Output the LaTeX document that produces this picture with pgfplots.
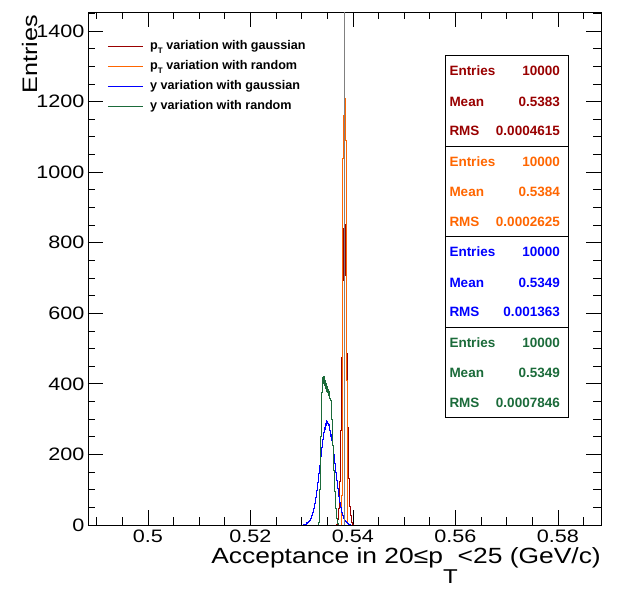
\documentclass[border=0pt]{standalone}
\usepackage{fontspec}
\setmainfont{Liberation Sans}
\newfontfamily\axisfont[FakeStretch=1.2]{Liberation Sans}
\usepackage{pgfplots}
\pgfplotsset{compat=1.18}

\definecolor{hred}{HTML}{990000}
\definecolor{horange}{HTML}{FF6600}
\definecolor{hblue}{HTML}{0000FF}
\definecolor{hgreen}{HTML}{1B6B3A}

% subscript T as drawn in the axis title and legend
\newcommand{\subT}[2]{\raisebox{#1}{\fontsize{#2}{#2}\selectfont T}}

\begin{document}
\begin{tikzpicture}[x=1pt,y=1pt]
\path[use as bounding box] (-88,-67) rectangle (537,525);
\begin{axis}[
  at={(0,0)}, anchor=south west,
  scale only axis, width=513pt, height=513pt,
  xmin=0.4883, xmax=0.5884, ymin=0, ymax=1454,
  xtick={0.5,0.52,0.54,0.56,0.58},
  xticklabels={0.5,0.52,0.54,0.56,0.58},
  minor xtick={0.49,0.495,0.505,0.51,0.515,0.525,0.53,0.535,0.545,0.55,0.555,0.565,0.57,0.575,0.585},
  ytick={0,200,...,1400},
  minor ytick={50,100,...,1450},
  major tick length=15pt, minor tick length=7.5pt,
  tick style={black, line width=0.8pt},
  axis line style={line width=0.8pt},
  /pgf/number format/assume math mode=true,
  /pgf/number format/1000 sep={},
  ticklabel style={font=\axisfont\fontsize{18}{18}\selectfont},
  xticklabel style={yshift=-1.5pt},
  xlabel={Acceptance in 20≤p\subT{-20pt}{20}<25 (GeV/c)},
  xlabel style={at={(axis description cs:1,-0.0741)}, anchor=base east, font=\axisfont\fontsize{22}{22}\selectfont, inner sep=0pt},
  ylabel={Entries},
  ylabel style={at={(axis description cs:-0.0994,0.9942)}, anchor=base east, font=\axisfont\fontsize{21}{21}\selectfont, inner sep=0pt},
  every axis plot/.append style={line width=0.8pt, const plot},
]
% pT variation, gaussian smearing
\addplot[hred] coordinates {
(0.4883,0) (0.5367,2) (0.5368,3) (0.5369,9) (0.5370,15) (0.5371,31) (0.5372,48)
(0.5373,85) (0.5374,124) (0.5375,195) (0.5376,268) (0.5377,376) (0.5378,474)
(0.5379,601) (0.5380,694) (0.5381,798) (0.5382,841) (0.5383,878) (0.5384,852)
(0.5385,780) (0.5386,708) (0.5387,588) (0.5388,486) (0.5389,364) (0.5390,277)
(0.5391,187) (0.5392,131) (0.5393,79) (0.5394,52) (0.5395,27) (0.5396,17)
(0.5397,7) (0.5398,4) (0.5399,1) (0.5400,0) (0.5884,0)};
% pT variation, random
\addplot[horange] coordinates {
(0.4883,0) (0.5377,6) (0.5378,85) (0.5379,560) (0.5380,1040) (0.5381,1105)
(0.5382,1160) (0.5383,1130) (0.5384,1210) (0.5385,1175) (0.5386,1090)
(0.5387,720) (0.5388,410) (0.5389,60) (0.5390,4) (0.5391,0) (0.5884,0)};
% y variation, gaussian smearing
\addplot[hblue] coordinates {
(0.4883,0) (0.5304,1) (0.5305,0) (0.5306,2) (0.5307,3) (0.5308,2) (0.5309,4)
(0.5310,6) (0.5311,5) (0.5312,8) (0.5313,10) (0.5314,11) (0.5315,13) (0.5316,17)
(0.5317,18) (0.5318,23) (0.5319,26) (0.5320,31) (0.5321,35) (0.5322,42)
(0.5323,46) (0.5324,55) (0.5325,61) (0.5326,72) (0.5327,78) (0.5328,91)
(0.5329,98) (0.5330,112) (0.5331,120) (0.5332,136) (0.5333,145) (0.5334,161)
(0.5335,170) (0.5336,188) (0.5337,195) (0.5338,214) (0.5339,220) (0.5340,238)
(0.5341,243) (0.5342,259) (0.5343,262) (0.5344,276) (0.5345,272) (0.5346,289)
(0.5347,283) (0.5348,297) (0.5349,288) (0.5350,293) (0.5351,287) (0.5352,281)
(0.5353,284) (0.5354,270) (0.5355,268) (0.5356,252) (0.5357,258) (0.5358,241)
(0.5359,232) (0.5360,226) (0.5361,208) (0.5362,201) (0.5363,183) (0.5364,176)
(0.5365,158) (0.5366,149) (0.5367,131) (0.5368,126) (0.5369,108) (0.5370,104)
(0.5371,88) (0.5372,82) (0.5373,68) (0.5374,64) (0.5375,53) (0.5376,49)
(0.5377,40) (0.5378,37) (0.5379,29) (0.5380,27) (0.5381,21) (0.5382,19)
(0.5383,15) (0.5384,13) (0.5385,10) (0.5386,9) (0.5387,7) (0.5388,6)
(0.5389,4) (0.5390,4) (0.5391,2) (0.5392,2) (0.5393,1) (0.5394,1)
(0.5395,0) (0.5884,0)};
% y variation, random
\addplot[hgreen] coordinates {
(0.4883,0) (0.5333,8) (0.5334,40) (0.5335,100) (0.5336,170) (0.5337,250)
(0.5338,320) (0.5339,375) (0.5340,405) (0.5341,418) (0.5342,400) (0.5343,422)
(0.5344,395) (0.5345,410) (0.5346,388) (0.5347,402) (0.5348,380) (0.5349,392)
(0.5350,376) (0.5351,385) (0.5352,368) (0.5353,378) (0.5354,372) (0.5355,360)
(0.5356,352) (0.5357,330) (0.5358,300) (0.5359,262) (0.5360,225) (0.5361,190)
(0.5362,156) (0.5363,125) (0.5364,96) (0.5365,70) (0.5366,48) (0.5367,31)
(0.5368,18) (0.5369,9) (0.5370,4) (0.5371,1) (0.5372,0) (0.5884,0)};
% reference value
\addplot[gray, line width=0.8pt, sharp plot] coordinates {(0.5384,0) (0.5384,1454)};
\end{axis}

% legend
\begin{scope}[font=\bfseries\fontsize{12.6}{12.6}\selectfont]
\foreach \i/\col/\txt in {
  0/hred/{p\subT{-4pt}{8} variation with gaussian},
  1/horange/{p\subT{-4pt}{8} variation with random},
  2/hblue/{y variation with gaussian},
  3/hgreen/{y variation with random}}{
  \draw[\col, line width=0.8pt] (20,479-20*\i) -- (55,479-20*\i);
  \node[anchor=base west, inner sep=0pt] at (62,475.7-20*\i) {\txt};
}
\end{scope}

% statistics boxes
\begin{scope}[font=\bfseries\fontsize{13.5}{13.5}\selectfont]
\foreach \top/\col/\ent/\mean/\rms in {
  469.5/hred/10000/0.5383/0.0004615,
  379/horange/10000/0.5384/0.0002625,
  288.5/hblue/10000/0.5349/0.001363,
  198/hgreen/10000/0.5349/0.0007846}{
  \draw[black, line width=0.8pt, fill=white] (357,\top) rectangle (480,\top-90.5);
  \node[\col, anchor=west, inner sep=0pt] at (361.3,\top-15.5) {Entries};
  \node[\col, anchor=east, inner sep=0pt] at (472,\top-15.5) {\ent};
  \node[\col, anchor=west, inner sep=0pt] at (361.3,\top-46) {Mean};
  \node[\col, anchor=east, inner sep=0pt] at (472,\top-46) {\mean};
  \node[\col, anchor=west, inner sep=0pt] at (361.3,\top-75.5) {RMS};
  \node[\col, anchor=east, inner sep=0pt] at (472,\top-75.5) {\rms};
}
\end{scope}
\end{tikzpicture}
\end{document}
